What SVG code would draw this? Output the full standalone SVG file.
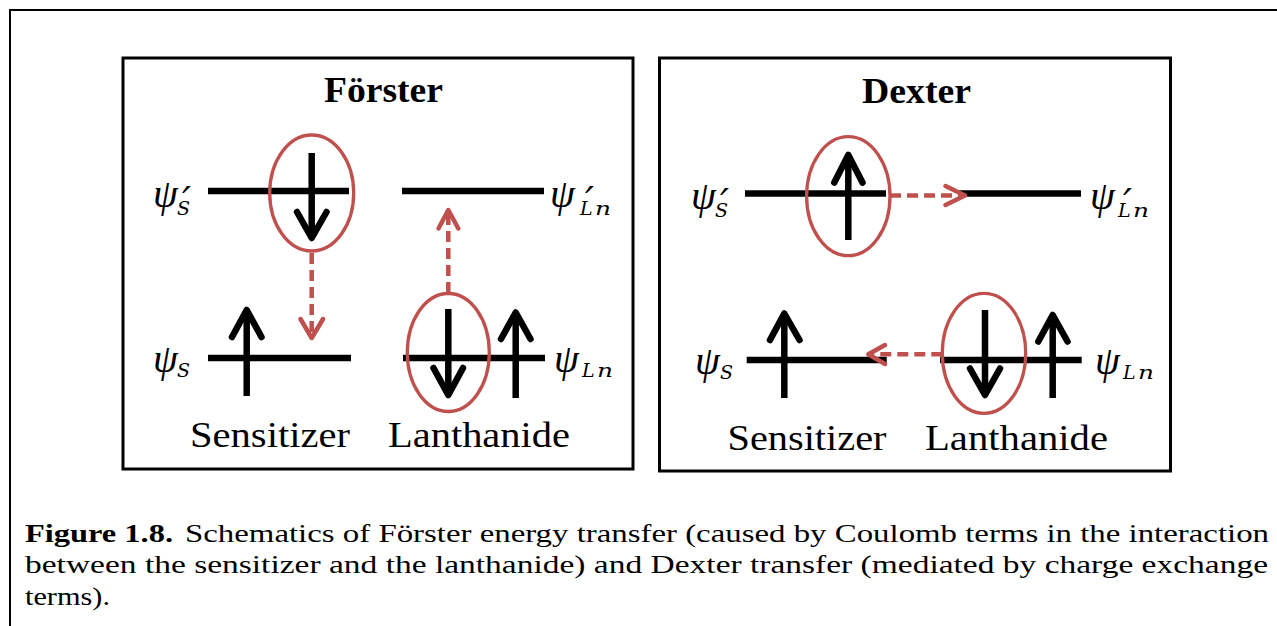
<svg xmlns="http://www.w3.org/2000/svg" width="1277" height="626" viewBox="0 0 1277 626">
<style>
.frame{fill:none;stroke:#000;stroke-width:2}
.panel{fill:#fff;stroke:#000;stroke-width:3}
.lvl{stroke:#000;stroke-width:6.5;stroke-linecap:butt}
.shaft{stroke:#000;stroke-width:6.5;stroke-linecap:butt;fill:none}
.head{stroke:#000;stroke-width:6.5;stroke-linecap:round;stroke-linejoin:round;fill:none}
.ell{fill:none;stroke:#C0504D;stroke-width:3.3}
.dash{stroke:#C0504D;stroke-width:4.5;stroke-dasharray:11 6;fill:none}
.rhead{stroke:#C0504D;stroke-width:4.5;stroke-linecap:round;stroke-linejoin:round;fill:none}
.title{font-family:"Liberation Serif","DejaVu Serif",serif;font-weight:bold;font-size:35px;fill:#000}
.lab{font-family:"Liberation Serif","DejaVu Serif",serif;font-size:36px;fill:#000}
.psi{font-family:"Liberation Serif","DejaVu Serif",serif;font-style:italic;font-size:40px;fill:#000}
.sub{font-family:"DejaVu Serif","Liberation Serif",serif;font-size:19px}
.pr{font-family:"DejaVu Serif","Liberation Serif",serif;font-size:40px}
.cap{font-family:"Liberation Serif","Times New Roman",serif;font-size:26px;fill:#000}
</style>

<g id="outer-frame">
<path class="frame" d="M10,626 V10 H1277"/>
</g>

<!-- Förster panel -->
<g id="panel-forster">
<rect class="panel" x="123" y="58" width="510" height="411"/>
<text class="title" x="324" y="102" textLength="119" lengthAdjust="spacingAndGlyphs">Förster</text>
</g>
<g id="f-level-S-excited">
<line class="lvl" x1="208" y1="191" x2="349" y2="191"/>
<text class="psi" x="153" y="207">ψ<tspan class="sub" x="177" y="215">S</tspan><tspan class="pr" x="182" y="215">′</tspan></text>
</g>
<g id="f-level-Ln-excited">
<line class="lvl" x1="402" y1="191" x2="544" y2="191"/>
<text class="psi" x="550" y="207">ψ<tspan class="sub" x="580" y="215">L</tspan><tspan class="sub" x="595" textLength="16" lengthAdjust="spacingAndGlyphs">n</tspan><tspan class="pr" x="585" y="215">′</tspan></text>
</g>
<g id="f-level-S-ground">
<line class="lvl" x1="208" y1="358" x2="351" y2="358"/>
<text class="psi" x="153" y="372">ψ<tspan class="sub" x="177" y="377">S</tspan></text>
</g>
<g id="f-level-Ln-ground">
<line class="lvl" x1="403" y1="358" x2="545" y2="358"/>
<text class="psi" x="554" y="372">ψ<tspan class="sub" x="582" y="377">L</tspan><tspan class="sub" x="597" textLength="16" lengthAdjust="spacingAndGlyphs">n</tspan></text>
</g>
<g id="f-electron-S-excited">
<ellipse class="ell" cx="311.7" cy="193" rx="42" ry="58"/>
<line class="shaft" x1="311.7" y1="153" x2="311.7" y2="234"/>
<polyline class="head" points="297,212 311.7,238 326.5,212"/>
</g>
<g id="f-electron-S-ground">
<line class="shaft" x1="246.7" y1="396" x2="246.7" y2="314"/>
<polyline class="head" points="232,337 246.7,310 261.5,337"/>
</g>
<g id="f-electron-Ln-ground-down">
<ellipse class="ell" cx="448.3" cy="352.5" rx="41" ry="59"/>
<line class="shaft" x1="448.3" y1="309" x2="448.3" y2="392"/>
<polyline class="head" points="433.5,368 448.3,395 463,368"/>
</g>
<g id="f-electron-Ln-ground-up">
<line class="shaft" x1="515.7" y1="398" x2="515.7" y2="316"/>
<polyline class="head" points="501,339 515.7,312.5 530.5,339"/>
</g>
<g id="f-text-labels">
<text class="lab" x="190" y="447" textLength="160" lengthAdjust="spacingAndGlyphs">Sensitizer</text>
<text class="lab" x="388" y="447" textLength="182" lengthAdjust="spacingAndGlyphs">Lanthanide</text>
</g>

<!-- Dexter panel -->
<g id="panel-dexter">
<rect class="panel" x="659.5" y="58" width="511" height="413"/>
<text class="title" x="862" y="103" textLength="109" lengthAdjust="spacingAndGlyphs">Dexter</text>
</g>
<g id="d-level-S-excited">
<line class="lvl" x1="745" y1="193.5" x2="886" y2="193.5"/>
<text class="psi" x="691" y="209">ψ<tspan class="sub" x="715" y="217">S</tspan><tspan class="pr" x="720" y="217">′</tspan></text>
</g>
<g id="d-level-Ln-excited">
<line class="lvl" x1="958" y1="193.5" x2="1081" y2="193.5"/>
<text class="psi" x="1090" y="209">ψ<tspan class="sub" x="1118" y="217">L</tspan><tspan class="sub" x="1133" textLength="16" lengthAdjust="spacingAndGlyphs">n</tspan><tspan class="pr" x="1123" y="217">′</tspan></text>
</g>
<g id="d-level-S-ground">
<line class="lvl" x1="746.7" y1="360" x2="886.7" y2="360"/>
<text class="psi" x="695" y="374">ψ<tspan class="sub" x="720" y="379">S</tspan></text>
</g>
<g id="d-level-Ln-ground">
<line class="lvl" x1="940" y1="360" x2="1081.7" y2="360"/>
<text class="psi" x="1095" y="374">ψ<tspan class="sub" x="1123" y="379">L</tspan><tspan class="sub" x="1138" textLength="16" lengthAdjust="spacingAndGlyphs">n</tspan></text>
</g>
<g id="d-electron-S-excited">
<ellipse class="ell" cx="848.3" cy="196.2" rx="41.7" ry="59.5"/>
<line class="shaft" x1="848.3" y1="240" x2="848.3" y2="159"/>
<polyline class="head" points="834.3,182.5 848.3,155 862.5,182.5"/>
</g>
<g id="d-electron-S-ground">
<line class="shaft" x1="784.3" y1="398" x2="784.3" y2="317"/>
<polyline class="head" points="770,340 784.3,313.5 799.5,340"/>
</g>
<g id="d-electron-Ln-ground-down">
<ellipse class="ell" cx="984" cy="353.3" rx="41.7" ry="60"/>
<line class="shaft" x1="985" y1="310" x2="985" y2="392"/>
<polyline class="head" points="970,368.5 985,395 1000,368.5"/>
</g>
<g id="d-electron-Ln-ground-up">
<line class="shaft" x1="1052.7" y1="398" x2="1052.7" y2="318"/>
<polyline class="head" points="1038.3,341.5 1052.7,315 1067.5,341.5"/>
</g>
<g id="d-text-labels">
<text class="lab" x="727.5" y="450" textLength="159" lengthAdjust="spacingAndGlyphs">Sensitizer</text>
<text class="lab" x="925" y="450" textLength="183" lengthAdjust="spacingAndGlyphs">Lanthanide</text>
</g>

<!-- connectors -->
<g id="connectors">
<line class="dash" x1="311.7" y1="253" x2="311.7" y2="335"/>
<polyline class="rhead" points="300.5,319 311.7,338 323,319"/>
<line class="dash" x1="448.3" y1="293" x2="448.3" y2="212"/>
<polyline class="rhead" points="438.5,228.5 448.3,210 458.3,228.5"/>
<line class="dash" x1="890" y1="195.5" x2="962" y2="195.5"/>
<polyline class="rhead" points="945.5,186 965,195.5 945.5,205"/>
<line class="dash" x1="942.3" y1="354.3" x2="871" y2="354.3"/>
<polyline class="rhead" points="885,345 868.3,354.3 885,364"/>
</g>

<!-- caption -->
<g id="caption">
<text class="cap" x="25" y="541.5" font-weight="bold" textLength="148" lengthAdjust="spacingAndGlyphs">Figure 1.8.</text>
<text class="cap" x="185" y="541.5" textLength="1084" lengthAdjust="spacingAndGlyphs">Schematics of Förster energy transfer (caused by Coulomb terms in the interaction</text>
<text class="cap" x="25" y="573" textLength="1243" lengthAdjust="spacingAndGlyphs">between the sensitizer and the lanthanide) and Dexter transfer (mediated by charge exchange</text>
<text class="cap" x="25" y="604.5" textLength="85" lengthAdjust="spacingAndGlyphs">terms).</text>
</g>
</svg>
